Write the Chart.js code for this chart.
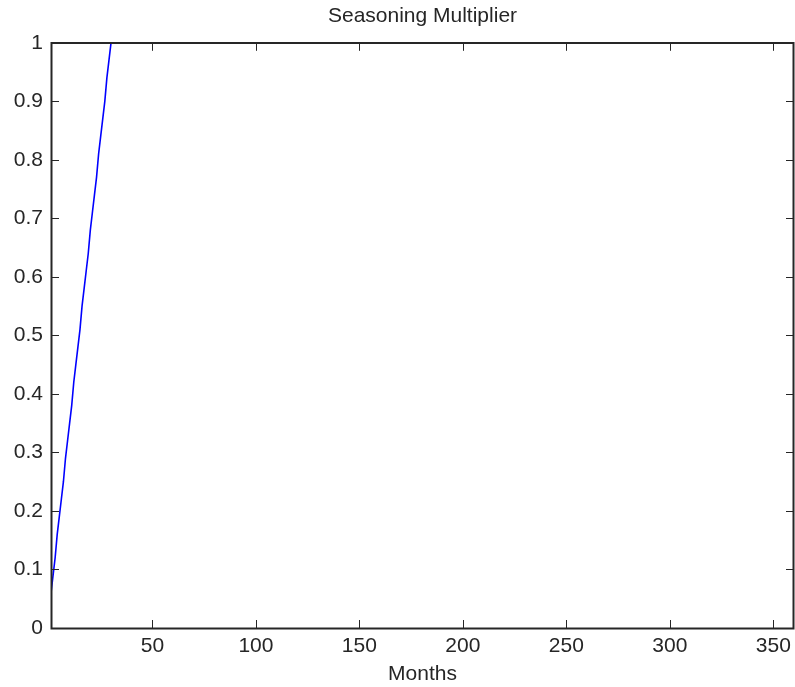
<!DOCTYPE html>
<html lang="en">
<head>
    <meta charset="UTF-8">
    <title>Seasoning Multiplier</title>
    <script src="https://cdn.jsdelivr.net/npm/chart.js@4.4.5/dist/chart.umd.min.js"></script>
    <style>
        body { margin: 0; background: #fff; }
    </style>
</head>
<body>
<canvas id="myChart" width="795" height="687"></canvas>

<script>
    // months and multiplier (flat at 1 after month 30)
    const months = [1, 2, 3, 4, 5, 6, 7, 8, 9, 10,
        11, 12, 13, 14, 15, 16, 17, 18, 19, 20,
        21, 22, 23, 24, 25, 26, 27, 28, 29, 30, 360];
    const multiplier = [0.06, 0.09, 0.12, 0.16, 0.19, 0.22, 0.25, 0.29, 0.32, 0.35,
        0.38, 0.42, 0.45, 0.48, 0.51, 0.55, 0.58, 0.61, 0.64, 0.68,
        0.71, 0.74, 0.77, 0.81, 0.84, 0.87, 0.90, 0.94, 0.97, 1.0, 1.0];
    const xTicks = [50, 100, 150, 200, 250, 300, 350];
    const yTicks = [0, 0.1, 0.2, 0.3, 0.4, 0.5, 0.6, 0.7, 0.8, 0.9, 1];

    const textColor = '#262626';
    const fontFamily = "'Liberation Sans', Arial, sans-serif";

    // matlab style box with inward ticks on all four sides
    const boxPlugin = {
        id: 'box',
        afterDraw: function (chart) {
            const ctx = chart.ctx;
            const a = chart.chartArea;
            const xs = chart.scales.x;
            const ys = chart.scales.y;
            const len = 8;
            ctx.save();
            ctx.strokeStyle = textColor;
            ctx.lineWidth = 1;
            ctx.beginPath();
            xTicks.forEach(function (v) {
                const px = Math.round(xs.getPixelForValue(v)) + 0.5;
                ctx.moveTo(px, a.bottom);
                ctx.lineTo(px, a.bottom - len);
                ctx.moveTo(px, a.top);
                ctx.lineTo(px, a.top + len);
            });
            yTicks.forEach(function (v) {
                const py = Math.round(ys.getPixelForValue(v)) + 0.5;
                ctx.moveTo(a.left, py);
                ctx.lineTo(a.left + len, py);
                ctx.moveTo(a.right, py);
                ctx.lineTo(a.right - len, py);
            });
            ctx.stroke();
            ctx.lineWidth = 2;
            ctx.strokeRect(Math.round(a.left) + 0.5, Math.round(a.top),
                Math.round(a.right - a.left) - 1, Math.round(a.bottom - a.top) + 0.5);
            ctx.restore();
        }
    };

    const points = months.map(function (m, i) {
        return {x: m, y: multiplier[i]};
    });

    const config = {
        type: 'line',
        data: {
            datasets: [{
                label: 'Seasoning Multiplier',
                data: points,
                borderColor: '#0000ff',
                borderWidth: 1.6,
                pointRadius: 0,
                fill: false,
                tension: 0
            }]
        },
        options: {
            responsive: false,
            animation: false,
            layout: {
                padding: {left: 0, right: 1, top: 0, bottom: 0}
            },
            scales: {
                x: {
                    type: 'linear',
                    min: 1,
                    max: 360,
                    grid: {display: false, drawTicks: false},
                    border: {display: false},
                    afterBuildTicks: function (scale) {
                        scale.ticks = xTicks.map(function (v) { return {value: v}; });
                    },
                    afterFit: function (scale) {
                        scale.height = 59;
                        scale.paddingLeft = 0;
                        scale.paddingRight = 0;
                    },
                    ticks: {
                        color: textColor,
                        padding: 6,
                        maxRotation: 0,
                        font: {family: fontFamily, size: 21}
                    },
                    title: {
                        display: true,
                        text: 'Months',
                        color: textColor,
                        padding: 0,
                        font: {family: fontFamily, size: 21}
                    }
                },
                y: {
                    min: 0,
                    max: 1,
                    grid: {display: false, drawTicks: false},
                    border: {display: false},
                    afterBuildTicks: function (scale) {
                        scale.ticks = yTicks.map(function (v) { return {value: v}; });
                    },
                    afterFit: function (scale) {
                        scale.width = 51;
                        scale.paddingTop = 0;
                        scale.paddingBottom = 0;
                    },
                    ticks: {
                        color: textColor,
                        padding: 8,
                        font: {family: fontFamily, size: 21},
                        callback: function (v) {
                            return String(Math.round(v * 10) / 10);
                        }
                    }
                }
            },
            plugins: {
                legend: {display: false},
                tooltip: {enabled: false},
                title: {
                    display: true,
                    fullSize: false,
                    text: 'Seasoning Multiplier',
                    color: textColor,
                    padding: {top: 4, bottom: 13.6},
                    font: {family: fontFamily, size: 21, weight: 'normal'}
                }
            }
        },
        plugins: [boxPlugin]
    };

    const ctx = document.getElementById('myChart').getContext('2d');
    const myChart = new Chart(ctx, config);
</script>
</body>
</html>
